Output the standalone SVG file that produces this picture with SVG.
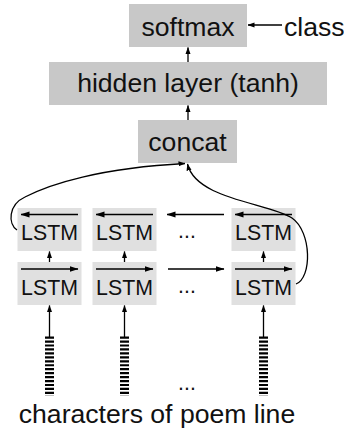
<svg xmlns="http://www.w3.org/2000/svg" width="344" height="433" viewBox="0 0 344 433">
  <style>
    .big { font-family: "Liberation Sans", Arial, sans-serif; font-size: 26.6px; fill: #111; }
    .small { font-family: "Liberation Sans", Arial, sans-serif; font-size: 21.3px; fill: #111; }
    .mid { text-anchor: middle; }
    .dark { fill: #c8c8c8; }
    .light { fill: #e0e0e0; }
    .line { stroke: #000; stroke-width: 1.3; fill: none; }
    .inner { stroke: #000; stroke-width: 1.5; fill: none; }
    .chars { stroke: #000; stroke-width: 9; stroke-dasharray: 2.2 1.75; fill: none; }
  </style>
  <defs>
    <marker id="head" markerWidth="7" markerHeight="6" refX="6.5" refY="3" orient="auto" markerUnits="userSpaceOnUse">
      <path d="M0,0.5 L7,3 L0,5.5 Z" fill="#000"/>
    </marker>
    <marker id="headLg" markerWidth="9" markerHeight="7" refX="8.5" refY="3.5" orient="auto" markerUnits="userSpaceOnUse">
      <path d="M0,0.5 L9,3.5 L0,6.5 Z" fill="#000"/>
    </marker>
  </defs>

  <!-- output stack -->
  <g id="softmax">
    <rect class="dark" x="129" y="4" width="118" height="43"/>
    <text class="big mid" x="188" y="36">softmax</text>
  </g>
  <g id="class">
    <text class="big" x="284" y="36">class</text>
  </g>
  <g id="hidden">
    <rect class="dark" x="49" y="62" width="278" height="43"/>
    <text class="big mid" x="188" y="92">hidden layer (tanh)</text>
  </g>
  <g id="concat">
    <rect class="dark" x="138" y="120" width="99" height="43"/>
    <text class="big mid" x="187.5" y="151">concat</text>
  </g>

  <!-- backward LSTM row -->
  <g id="lstm-b1">
    <rect class="light" x="17.5" y="208" width="64" height="43"/>
    <line class="inner" x1="78" y1="214.5" x2="21" y2="214.5" marker-end="url(#headLg)"/>
    <text class="small mid" x="49.5" y="240">LSTM</text>
  </g>
  <g id="lstm-b2">
    <rect class="light" x="92.5" y="208" width="64" height="43"/>
    <line class="inner" x1="153" y1="214.5" x2="96" y2="214.5" marker-end="url(#headLg)"/>
    <text class="small mid" x="124.5" y="240">LSTM</text>
  </g>
  <g id="lstm-b3">
    <rect class="light" x="231.5" y="208" width="64" height="43"/>
    <line class="inner" x1="292" y1="214.5" x2="235" y2="214.5" marker-end="url(#headLg)"/>
    <text class="small mid" x="263.5" y="240">LSTM</text>
  </g>

  <!-- forward LSTM row -->
  <g id="lstm-f1">
    <rect class="light" x="17.5" y="262" width="64" height="43"/>
    <line class="inner" x1="21" y1="269" x2="78" y2="269" marker-end="url(#headLg)"/>
    <text class="small mid" x="49.5" y="295">LSTM</text>
  </g>
  <g id="lstm-f2">
    <rect class="light" x="92.5" y="262" width="64" height="43"/>
    <line class="inner" x1="96" y1="269" x2="153" y2="269" marker-end="url(#headLg)"/>
    <text class="small mid" x="124.5" y="295">LSTM</text>
  </g>
  <g id="lstm-f3">
    <rect class="light" x="231.5" y="262" width="64" height="43"/>
    <line class="inner" x1="235" y1="269" x2="292" y2="269" marker-end="url(#headLg)"/>
    <text class="small mid" x="263.5" y="295">LSTM</text>
  </g>

  <!-- character inputs -->
  <g id="chars-1"><line class="chars" x1="49.5" y1="336.5" x2="49.5" y2="396"/></g>
  <g id="chars-2"><line class="chars" x1="124.5" y1="336.5" x2="124.5" y2="396"/></g>
  <g id="chars-3"><line class="chars" x1="263.5" y1="336.5" x2="263.5" y2="396"/></g>

  <g id="ellipses">
    <text class="small mid" x="187" y="238">...</text>
    <text class="small mid" x="187" y="293">...</text>
    <text class="small mid" x="187" y="390">...</text>
  </g>

  <g id="caption">
    <text class="big mid" x="157" y="423">characters of poem line</text>
  </g>

  <!-- connectors -->
  <g id="connectors">
    <line class="line" x1="282" y1="25" x2="248" y2="25" marker-end="url(#head)"/>
    <line class="line" x1="188" y1="62" x2="188" y2="47.5" marker-end="url(#head)"/>
    <line class="line" x1="188" y1="120" x2="188" y2="105.5" marker-end="url(#head)"/>

    <line class="line" x1="224" y1="214.5" x2="167" y2="214.5" marker-end="url(#headLg)"/>
    <line class="line" x1="168" y1="269" x2="224" y2="269" marker-end="url(#headLg)"/>

    <line class="line" x1="49.5" y1="262" x2="49.5" y2="251.5" marker-end="url(#head)"/>
    <line class="line" x1="124.5" y1="262" x2="124.5" y2="251.5" marker-end="url(#head)"/>
    <line class="line" x1="263.5" y1="262" x2="263.5" y2="251.5" marker-end="url(#head)"/>

    <line class="line" x1="49.5" y1="337" x2="49.5" y2="305.5" marker-end="url(#head)"/>
    <line class="line" x1="124.5" y1="337" x2="124.5" y2="305.5" marker-end="url(#head)"/>
    <line class="line" x1="263.5" y1="337" x2="263.5" y2="305.5" marker-end="url(#head)"/>

    <path class="line" d="M17,230 C8,224 8,205 25,197 C50,184 100,168 185,163.5" marker-end="url(#head)"/>
    <path class="line" d="M296,284 C312,278 312,232 292,218 C270,203 196,200 187.5,164" marker-end="url(#head)"/>
  </g>
</svg>
